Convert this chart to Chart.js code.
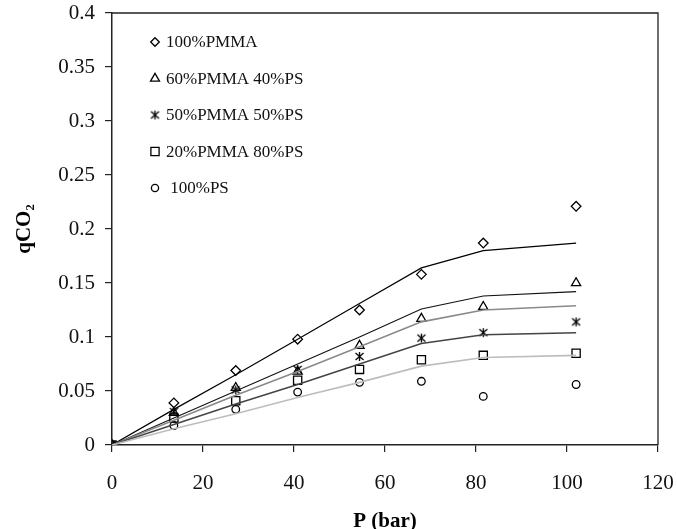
<!DOCTYPE html>
<html>
<head>
<meta charset="utf-8">
<script src="https://cdn.jsdelivr.net/npm/chart.js@4.4.1/dist/chart.umd.min.js"></script>
<style>
  html, body { margin: 0; padding: 0; background: #fff; }
  #wrap { width: 677px; height: 529px; }
</style>
</head>
<body>
<div id="wrap"><canvas id="js--chart-1"></canvas></div>
<script>
// pressure (bar)
const pressure = [0, 13.6, 27.2, 40.8, 54.4, 68, 81.6, 102];

// measured qCO2
const pmma100 = [0, 0.039, 0.069, 0.098, 0.125, 0.158, 0.187, 0.221];
const pmma60 = [0, 0.030, 0.053, 0.068, 0.092, 0.117, 0.128, 0.150];
const pmma50 = [0, 0.031, 0.051, 0.070, 0.082, 0.099, 0.104, 0.114];
const pmma20 = [0, 0.025, 0.041, 0.060, 0.070, 0.079, 0.083, 0.085];
const ps100 = [0, 0.018, 0.033, 0.049, 0.058, 0.059, 0.045, 0.056];

// model curves
const fit1 = [0, 0.033, 0.065, 0.098, 0.131, 0.164, 0.180, 0.187];
const fit2 = [0, 0.025, 0.050, 0.075, 0.100, 0.126, 0.138, 0.142];
const fit3 = [0, 0.023, 0.046, 0.068, 0.091, 0.114, 0.125, 0.129];
const fit4 = [0, 0.019, 0.038, 0.056, 0.075, 0.094, 0.102, 0.104];
const fit5 = [0, 0.015, 0.029, 0.044, 0.058, 0.073, 0.081, 0.083];

const seriesLabels = ["100%PMMA", "60%PMMA 40%PS", "50%PMMA 50%PS", "20%PMMA 80%PS", " 100%PS"];
const xTicks = [0, 20, 40, 60, 80, 100, 120];
const yTicks = [0, 0.05, 0.1, 0.15, 0.2, 0.25, 0.3, 0.35, 0.4];

const FONT = "'Liberation Serif', 'Times New Roman', serif";

function pts(ys) {
    return pressure.map((p, i) => ({x: p, y: ys[i]}));
}

// asterisk marker (vertical bar + X)
function starMarker() {
    let c = document.createElement("canvas");
    c.width = 11; c.height = 11;
    let g = c.getContext("2d");
    g.strokeStyle = "#000";
    g.lineWidth = 1.3;
    g.beginPath();
    g.moveTo(5.5, 1); g.lineTo(5.5, 10);
    g.moveTo(1.5, 2); g.lineTo(9.5, 9);
    g.moveTo(9.5, 2); g.lineTo(1.5, 9);
    g.stroke();
    return c;
}
const star = starMarker();

function markerSet(label, ys, style, radius, legendRadius) {
    return {
        label: label,
        data: pts(ys),
        showLine: false,
        pointStyle: style,
        pointRadius: radius,
        pointHoverRadius: radius,
        pointBorderColor: "#000",
        pointBackgroundColor: "rgba(255,255,255,0)",
        pointBorderWidth: 1.3,
        legendRadius: legendRadius
    };
}

function lineSet(ys, color, width) {
    return {
        label: "",
        data: pts(ys),
        showLine: true,
        borderColor: color,
        borderWidth: width,
        pointRadius: 0,
        tension: 0,
        fill: false
    };
}

const data1 = {
    datasets: [
        lineSet(fit5, "#bdbdbd", 1.6),
        lineSet(fit4, "#444444", 1.5),
        lineSet(fit3, "#8a8a8a", 1.6),
        lineSet(fit2, "#111111", 1.1),
        lineSet(fit1, "#000000", 1.2),
        markerSet(seriesLabels[0], pmma100, "rectRot", 4.8, 4.3),
        markerSet(seriesLabels[1], pmma60, "triangle", 5.3, 5.2),
        markerSet(seriesLabels[2], pmma50, star, 5.5, 5.5),
        markerSet(seriesLabels[3], pmma20, "rect", 5.8, 5.8),
        markerSet(seriesLabels[4], ps100, "circle", 3.8, 3.6)
    ]
};

// frame + legend inside the plot area
const extras = {
    id: "extras",
    afterDraw(chart) {
        let ctx = chart.ctx;
        let a = chart.chartArea;
        ctx.save();
        ctx.strokeStyle = "#222";
        ctx.lineWidth = 1.3;
        ctx.beginPath();
        ctx.moveTo(a.left, a.top);
        ctx.lineTo(a.right, a.top);
        ctx.lineTo(a.right, a.bottom);
        ctx.stroke();

        let marks = chart.data.datasets.filter(d => d.legendRadius);
        ctx.textBaseline = "middle";
        marks.forEach((d, i) => {
            let y = 42 + i * 36.5;
            ctx.fillStyle = "rgba(0,0,0,0)";
            ctx.strokeStyle = "#000";
            ctx.lineWidth = 1.3;
            Chart.helpers.drawPoint(ctx, {
                pointStyle: d.pointStyle,
                radius: d.legendRadius,
                borderWidth: 1.3
            }, 155, y);
            ctx.font = "17px " + FONT;
            ctx.fillStyle = "#111";
            ctx.fillText(d.label, 166, y + 1);
        });
        ctx.restore();
    }
};

const config = {
    type: "scatter",
    data: data1,
    options: {
        responsive: true,
        maintainAspectRatio: false,
        animation: false,
        layout: {padding: {top: 13, right: 19, left: 0, bottom: 0}},
        plugins: {
            legend: {display: false},
            tooltip: {enabled: false}
        },
        scales: {
            x: {
                type: "linear",
                min: 0,
                max: 120,
                afterBuildTicks: s => { s.ticks = xTicks.map(v => ({value: v})); },
                afterFit: s => { s.height = 84; s.paddingLeft = 0; s.paddingRight = 0; },
                border: {display: true, color: "#222", width: 1.5},
                grid: {drawOnChartArea: false, drawTicks: true, tickLength: 7, color: "#222", lineWidth: 1.2},
                ticks: {color: "#111", font: {family: FONT, size: 21}, padding: 19},
                title: {display: true, text: "P (bar)", color: "#000", font: {family: FONT, size: 21, weight: "bold"}, padding: {top: 0, bottom: -5}}
            },
            y: {
                type: "linear",
                min: 0,
                max: 0.4,
                afterBuildTicks: s => { s.ticks = yTicks.map(v => ({value: v})); },
                afterFit: s => { s.width = 112; s.paddingTop = 0; s.paddingBottom = 0; },
                border: {display: true, color: "#222", width: 1.5},
                grid: {drawOnChartArea: false, drawTicks: true, tickLength: 7, color: "#222", lineWidth: 1.2},
                ticks: {color: "#111", font: {family: FONT, size: 21}, padding: 10,
                    callback: v => String(+v.toFixed(2))},
                title: {display: true, text: "qCO\u2082", color: "#000", font: {family: FONT, size: 21, weight: "bold"}, padding: {top: 12, bottom: 0}}
            }
        }
    },
    plugins: [extras]
};

const chart1 = new Chart(document.getElementById("js--chart-1"), config);
</script>
</body>
</html>
